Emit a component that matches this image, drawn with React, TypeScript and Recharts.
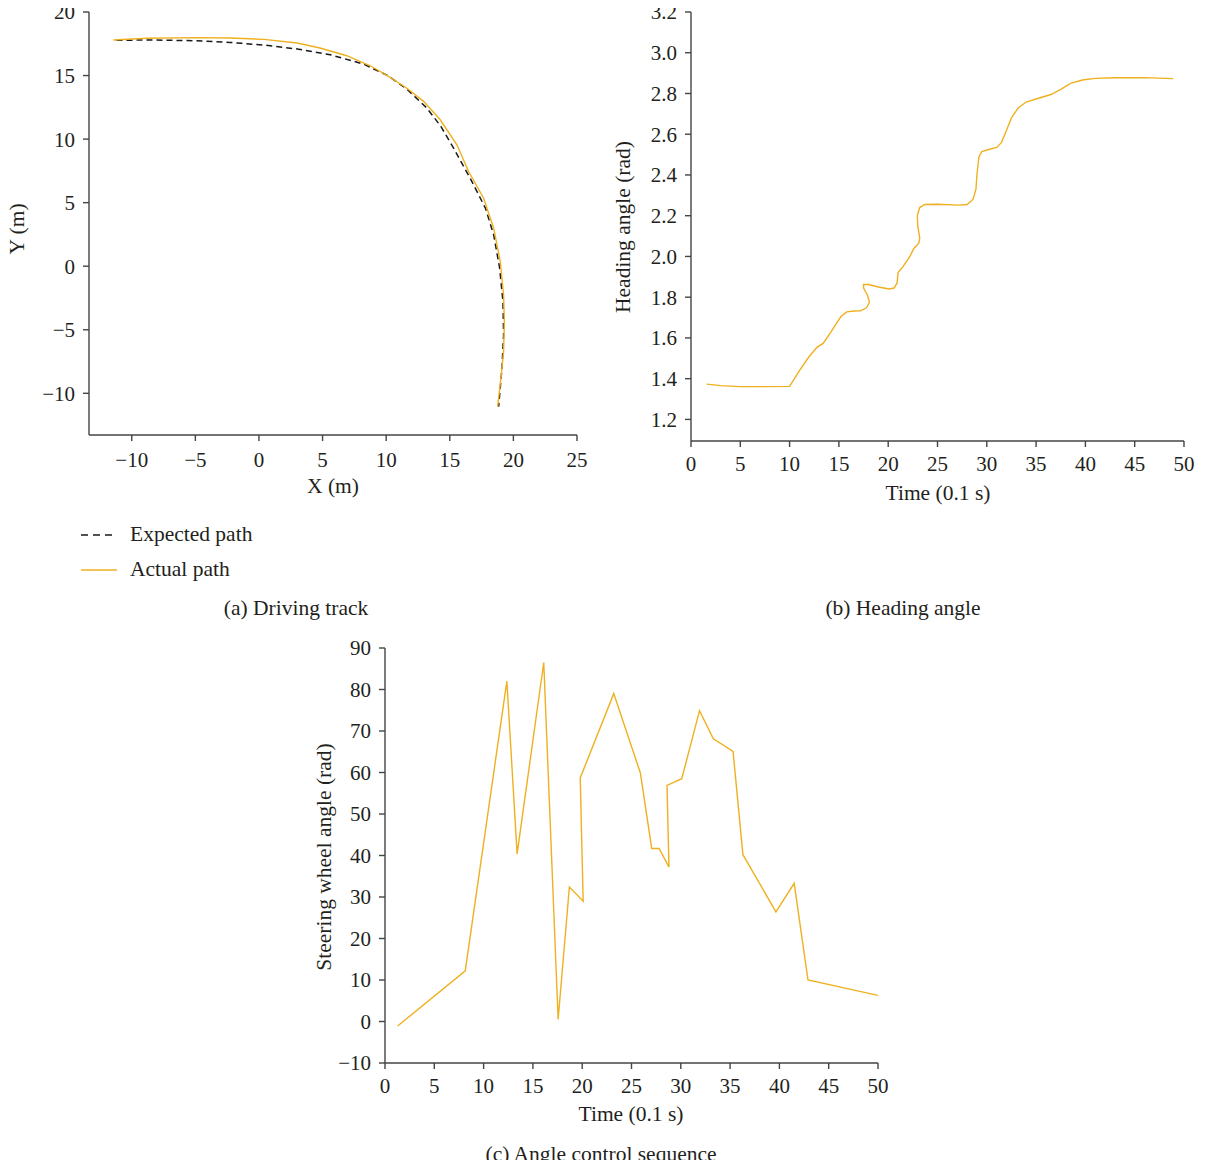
import { LineChart, Line, XAxis, YAxis } from 'recharts';

// (a) driving track, metres
const expectedX = [-11.2, -8.8, -4.9, -2.3, 0.4, 3.0, 5.6, 8.2, 10.1, 11.6, 13.2, 14.3, 15.3, 16.6, 17.8, 18.45, 18.92, 19.18, 19.23, 19.1, 18.84];
const expectedY = [17.77, 17.8, 17.74, 17.61, 17.4, 17.09, 16.64, 15.91, 15.01, 13.96, 12.44, 11.0, 9.29, 6.93, 4.57, 2.47, -0.16, -2.78, -5.41, -8.03, -11.05];
const actualX = [-11.44, -8.8, -4.9, -2.3, 0.4, 3.0, 4.8, 6.9, 8.75, 10.06, 11.63, 12.94, 14.25, 15.56, 16.48, 17.66, 18.45, 18.97, 19.23, 19.29, 19.23, 19.02, 18.76];
const actualY = [17.8, 17.93, 17.98, 17.95, 17.85, 17.56, 17.17, 16.56, 15.77, 15.01, 14.0, 12.97, 11.52, 9.55, 7.45, 5.35, 2.99, 0.37, -2.26, -4.36, -6.72, -8.82, -11.05];
const trackXTicks = [-10, -5, 0, 5, 10, 15, 20, 25];
const trackYTicks = [-10, -5, 0, 5, 10, 15, 20];

// (b) heading angle, rad
const headingT = [1.6, 3, 5, 7.5, 10, 11, 12, 12.8, 13.4, 14.2, 15.2, 15.8, 16.5, 17.2, 17.8, 18.1, 17.9, 17.5, 17.5, 18.0, 19, 20.1, 20.6, 20.9, 21, 21.5, 22.2, 22.6, 23.1, 23.2, 23.0, 22.95, 23.2, 23.7, 25, 27.2, 28, 28.6, 28.9, 29.0, 29.2, 29.5, 30.2, 31, 31.5, 32, 32.5, 33.2, 34, 35, 36.5, 37.5, 38.5, 39.7, 41, 43, 46, 48.9];
const headingVal = [1.373, 1.366, 1.361, 1.361, 1.362, 1.44, 1.51, 1.555, 1.573, 1.63, 1.705, 1.728, 1.732, 1.733, 1.748, 1.775, 1.81, 1.845, 1.862, 1.862, 1.85, 1.84, 1.845, 1.87, 1.921, 1.95, 2.0, 2.039, 2.065, 2.09, 2.15, 2.2, 2.24, 2.255, 2.256, 2.252, 2.255, 2.28, 2.33, 2.4, 2.49, 2.515, 2.525, 2.535, 2.56, 2.62, 2.68, 2.73, 2.758, 2.773, 2.795, 2.82, 2.85, 2.866, 2.874, 2.877, 2.878, 2.873];
const timeTicks = [0, 5, 10, 15, 20, 25, 30, 35, 40, 45, 50];
const headingTicks = [1.2, 1.4, 1.6, 1.8, 2.0, 2.2, 2.4, 2.6, 2.8, 3.0, 3.2];

// (c) steering wheel angle
const steerT = [1.28, 8.14, 12.36, 13.4, 16.1, 17.56, 18.7, 20.1, 19.8, 23.2, 25.9, 27.05, 27.8, 28.8, 28.6, 30.1, 31.9, 33.3, 35.3, 36.3, 39.65, 41.5, 42.9, 50.0];
const steerVal = [-1.1, 12.2, 82.0, 40.4, 86.5, 0.5, 32.4, 29.0, 58.7, 79.0, 59.9, 41.7, 41.7, 37.2, 56.9, 58.5, 74.9, 68.1, 65.1, 40.2, 26.4, 33.3, 10.0, 6.3];
const steerTicks = [-10, 0, 10, 20, 30, 40, 50, 60, 70, 80, 90];

const expected = expectedX.map((x, i) => ({ x, y: expectedY[i] }));
const actual = actualX.map((x, i) => ({ x, y: actualY[i] }));
const heading = headingT.map((t, i) => ({ t, v: headingVal[i] }));
const steering = steerT.map((t, i) => ({ t, v: steerVal[i] }));

const FONT = "'Liberation Serif', 'DejaVu Serif', serif";
const INK = '#231f20';
const AXIS = '#444444';
const GOLD = '#efb020';
const TITLE_SIZE = 21.5;

const tickStyle = { fill: INK, fontSize: 21, fontFamily: FONT };
const minus = (v: number) => String(v).replace('-', '\u2212');

function Caption({ x, y, text, rotate }: { x: number; y: number; text: string; rotate?: boolean }) {
    return (
        <div
            style={{
                position: 'absolute',
                left: x,
                top: y,
                transform: `translate(-50%, -50%)${rotate ? ' rotate(-90deg)' : ''}`,
                whiteSpace: 'nowrap',
                fontSize: TITLE_SIZE,
                color: INK,
                lineHeight: 1,
            }}
        >
            {text}
        </div>
    );
}

const legendText = {
    position: 'absolute' as const,
    left: 130,
    transform: 'translateY(-50%)',
    fontSize: TITLE_SIZE,
    color: INK,
    lineHeight: 1,
    whiteSpace: 'nowrap' as const,
};

export default function App() {
    return (
        <div style={{ position: 'relative', width: 1211, height: 1166, margin: '-6px -8px -8px -8px', fontFamily: FONT, background: '#fff' }}>
            {/* (a) driving track */}
            <div style={{ position: 'absolute', left: 0, top: -10 }}>
                <LineChart width={600} height={510} margin={{ top: 20, right: 23, bottom: 0, left: 0 }}>
                    <XAxis
                        type="number"
                        dataKey="x"
                        domain={[-13.36, 25]}
                        ticks={trackXTicks}
                        allowDataOverflow
                        height={67}
                        stroke={AXIS}
                        strokeWidth={1.4}
                        tickSize={6}
                        tickMargin={11}
                        tick={tickStyle}
                        tickFormatter={minus}
                    />
                    <YAxis
                        type="number"
                        dataKey="y"
                        domain={[-13.28, 20]}
                        ticks={trackYTicks}
                        allowDataOverflow
                        width={89}
                        stroke={AXIS}
                        strokeWidth={1.4}
                        tickSize={6}
                        tickMargin={8}
                        tick={tickStyle}
                        tickFormatter={minus}
                    />
                    <Line data={expected} dataKey="y" type="linear" stroke="#1a1a1a" strokeWidth={1.5} strokeDasharray="6 4" dot={false} isAnimationActive={false} />
                    <Line data={actual} dataKey="y" type="linear" stroke={GOLD} strokeWidth={1.4} dot={false} isAnimationActive={false} />
                </LineChart>
            </div>
            <Caption x={333} y={485} text="X (m)" />
            <Caption x={18} y={227} text="Y (m)" rotate />

            {/* legend for (a) */}
            <svg style={{ position: 'absolute', left: 81, top: 523 }} width={37} height={55}>
                <line x1={0} y1={10} x2={36} y2={10} stroke="#1a1a1a" strokeWidth={1.5} strokeDasharray="7 5" />
                <line x1={0} y1={45} x2={36} y2={45} stroke={GOLD} strokeWidth={1.4} />
            </svg>
            <div style={{ ...legendText, top: 533 }}>Expected path</div>
            <div style={{ ...legendText, top: 568 }}>Actual path</div>
            <Caption x={296} y={607} text="(a) Driving track" />

            {/* (b) heading angle */}
            <div style={{ position: 'absolute', left: 600, top: -10 }}>
                <LineChart width={611} height={530} data={heading} margin={{ top: 20, right: 27, bottom: 0, left: 0 }}>
                    <XAxis
                        type="number"
                        dataKey="t"
                        domain={[0, 50]}
                        ticks={timeTicks}
                        allowDataOverflow
                        height={81}
                        stroke={AXIS}
                        strokeWidth={1.4}
                        tickSize={6}
                        tickMargin={9}
                        tick={tickStyle}
                    />
                    <YAxis
                        type="number"
                        domain={[1.094, 3.2]}
                        ticks={headingTicks}
                        allowDataOverflow
                        width={91}
                        stroke={AXIS}
                        strokeWidth={1.4}
                        tickSize={6}
                        tickMargin={8}
                        tick={tickStyle}
                        tickFormatter={(v: number) => v.toFixed(1)}
                    />
                    <Line dataKey="v" type="linear" stroke={GOLD} strokeWidth={1.4} dot={false} isAnimationActive={false} />
                </LineChart>
            </div>
            <Caption x={938} y={492} text="Time (0.1 s)" />
            <Caption x={624} y={225} text="Heading angle (rad)" rotate />
            <Caption x={903} y={607} text="(b) Heading angle" />

            {/* (c) angle control sequence */}
            <div style={{ position: 'absolute', left: 300, top: 630 }}>
                <LineChart width={600} height={500} data={steering} margin={{ top: 16, right: 22, bottom: 0, left: 0 }}>
                    <XAxis
                        type="number"
                        dataKey="t"
                        domain={[0, 50]}
                        ticks={timeTicks}
                        allowDataOverflow
                        height={69}
                        stroke={AXIS}
                        strokeWidth={1.4}
                        tickSize={6}
                        tickMargin={9}
                        tick={tickStyle}
                    />
                    <YAxis
                        type="number"
                        domain={[-10, 90]}
                        ticks={steerTicks}
                        allowDataOverflow
                        width={85}
                        stroke={AXIS}
                        strokeWidth={1.4}
                        tickSize={6}
                        tickMargin={8}
                        tick={tickStyle}
                        tickFormatter={minus}
                    />
                    <Line dataKey="v" type="linear" stroke={GOLD} strokeWidth={1.4} dot={false} isAnimationActive={false} />
                </LineChart>
            </div>
            <Caption x={631} y={1113} text="Time (0.1 s)" />
            <Caption x={325} y={855} text="Steering wheel angle (rad)" rotate />
            <Caption x={601} y={1153} text="(c) Angle control sequence" />
        </div>
    );
}
